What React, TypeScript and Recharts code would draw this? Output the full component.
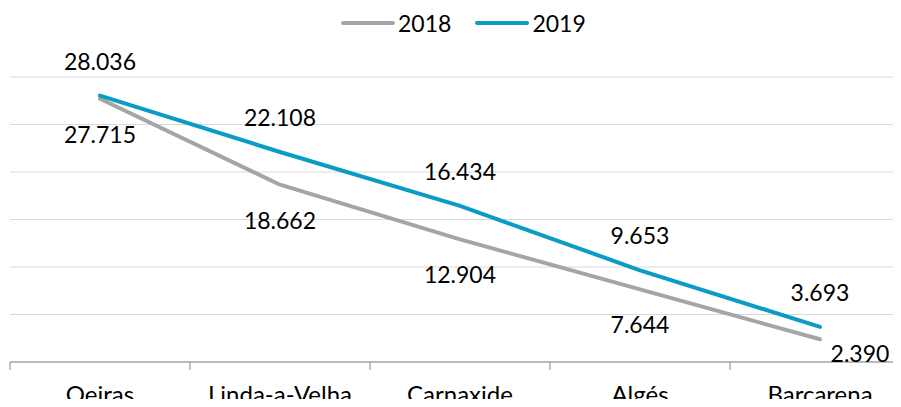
import { LineChart, Line, XAxis, YAxis, CartesianGrid, LabelList } from 'recharts';

const categories = ['Oeiras', 'Linda-a-Velha', 'Carnaxide', 'Algés', 'Barcarena'];
const values2018 = [27715, 18662, 12904, 7644, 2390];
const values2019 = [28036, 22108, 16434, 9653, 3693];
const yTicks = [0, 5000, 10000, 15000, 20000, 25000, 30000];

const data = categories.map((name, i) => ({ name, y2018: values2018[i], y2019: values2019[i] }));

const GRAY = '#A5A5A5';
const BLUE = '#0A9BC7';
const FONT = 'Lato, sans-serif';
const FS = 23;

const CHART_W = 910;
const CHART_H = 407;
const M_LEFT = 10;
const M_TOP = 77;
const AXIS_H = 45;
const PLOT_BOTTOM = CHART_H - AXIS_H;
const HALF_BAND = (CHART_W - M_LEFT) / categories.length / 2;

// Portuguese style thousands: 28036 -> 28.036
const fmt = (v: number) => {
  const k = Math.floor(v / 1000);
  const r = String(v % 1000).padStart(3, '0');
  return `${k}.${r}`;
};

// eslint-disable-next-line @typescript-eslint/no-explicit-any
const AboveLabel = (props: any) => {
  const { x, y, value } = props;
  return (
    <text x={x} y={y - 34 + 8} textAnchor="middle" fontFamily={FONT} fontSize={FS} fill="#000">
      {fmt(value)}
    </text>
  );
};

// eslint-disable-next-line @typescript-eslint/no-explicit-any
const BelowLabel = (props: any) => {
  const { x, y, value } = props;
  let cy = y + 36;
  let cx = x;
  // no room under the point: push it against the axis and to the right
  if (cy + 8 > PLOT_BOTTOM) {
    cy = PLOT_BOTTOM - 8;
    cx = x + 40;
  }
  return (
    <text x={cx} y={cy + 8} textAnchor="middle" fontFamily={FONT} fontSize={FS} fill="#000">
      {fmt(value)}
    </text>
  );
};

// eslint-disable-next-line @typescript-eslint/no-explicit-any
const CategoryTick = (props: any) => {
  const { x, y, payload, index } = props;
  const last = index === categories.length - 1;
  return (
    <g>
      <line x1={x - HALF_BAND} x2={x - HALF_BAND} y1={y} y2={y + 8} stroke="#8A8A8A" strokeWidth={1} />
      {last && <line x1={x + HALF_BAND} x2={x + HALF_BAND} y1={y} y2={y + 8} stroke="#8A8A8A" strokeWidth={1} />}
      <text x={x} y={y + 41} textAnchor="middle" fontFamily={FONT} fontSize={24} fill="#000">
        {payload.value}
      </text>
    </g>
  );
};

function LegendItem({ color, label }: { color: string; label: string }) {
  return (
    <div style={{ display: 'flex', alignItems: 'center', marginRight: 24 }}>
      <div style={{ width: 54, height: 4, borderRadius: 2, background: color, marginRight: 3 }} />
      <span style={{ fontFamily: FONT, fontSize: FS, color: '#000', lineHeight: '26px' }}>{label}</span>
    </div>
  );
}

export default function App() {
  return (
    <div style={{ position: 'relative', width: 901, height: 407, margin: -8, overflow: 'hidden', background: '#fff' }}>
      <div style={{ position: 'absolute', left: 341, top: 10, display: 'flex' }}>
        <LegendItem color={GRAY} label="2018" />
        <LegendItem color={BLUE} label="2019" />
      </div>
      <LineChart width={CHART_W} height={CHART_H} data={data} margin={{ top: M_TOP, right: 0, left: M_LEFT, bottom: 0 }}>
        <CartesianGrid vertical={false} stroke="#D9D9D9" strokeWidth={1} />
        <XAxis
          dataKey="name"
          height={AXIS_H}
          padding={{ left: HALF_BAND, right: HALF_BAND }}
          tickLine={false}
          tickSize={0}
          tickMargin={0}
          axisLine={{ stroke: '#8A8A8A', strokeWidth: 1 }}
          tick={<CategoryTick />}
          interval={0}
        />
        <YAxis hide domain={[0, 30000]} ticks={yTicks} />
        <Line
          dataKey="y2018"
          name="2018"
          stroke={GRAY}
          strokeWidth={4}
          strokeLinecap="round"
          strokeLinejoin="round"
          dot={false}
          activeDot={false}
          isAnimationActive={false}
        >
          <LabelList dataKey="y2018" content={<BelowLabel />} />
        </Line>
        <Line
          dataKey="y2019"
          name="2019"
          stroke={BLUE}
          strokeWidth={4}
          strokeLinecap="round"
          strokeLinejoin="round"
          dot={false}
          activeDot={false}
          isAnimationActive={false}
        >
          <LabelList dataKey="y2019" content={<AboveLabel />} />
        </Line>
      </LineChart>
    </div>
  );
}
